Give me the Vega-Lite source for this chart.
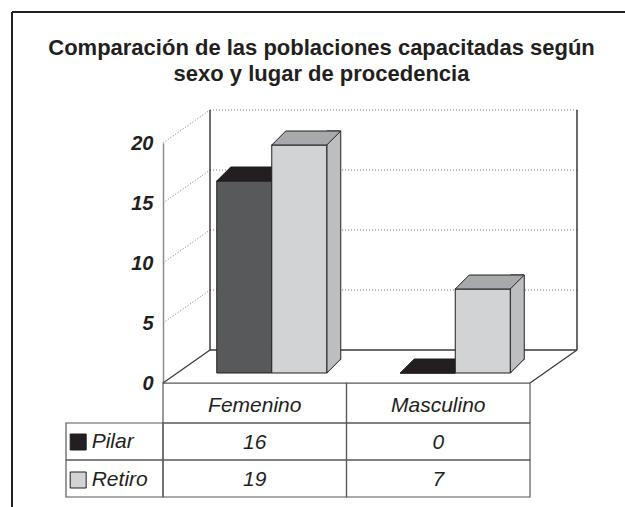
{
  "$schema": "https://vega.github.io/schema/vega-lite/v6.json",
  "width": 613,
  "height": 495,
  "autosize": {"type": "none"},
  "padding": {"left": 12, "top": 12, "right": 0, "bottom": 0},
  "background": "white",
  "config": {"view": {"stroke": null}, "font": "Liberation Sans"},
  "title": {
    "text": ["Comparación de las poblaciones capacitadas según", "sexo y lugar de procedencia"],
    "anchor": "middle",
    "frame": "group",
    "font": "Liberation Sans",
    "fontSize": 22,
    "fontWeight": "bold",
    "color": "#231f20",
    "lineHeight": 26,
    "baseline": "alphabetic",
    "offset": -92,
    "dx": 3
  },
  "datasets": {
    "bars": [
      {"sexo": "Femenino", "lugar": "Pilar", "n": 16},
      {"sexo": "Femenino", "lugar": "Retiro", "n": 19},
      {"sexo": "Masculino", "lugar": "Pilar", "n": 0},
      {"sexo": "Masculino", "lugar": "Retiro", "n": 7}
    ],
    "levels": [{"v": 5}, {"v": 10}, {"v": 15}, {"v": 20}],
    "one": [{"k": 1}]
  },
  "resolve": {"scale": {"x": "independent", "y": "independent"}},
  "layer": [
    {
      "layer": [
        {
          "data": {"name": "one"},
          "mark": {"type": "rule", "stroke": "#231f20", "strokeWidth": 2},
          "encoding": {"x": {"value": 0}, "x2": {"value": 640}, "y": {"value": 0}}
        },
        {
          "data": {"name": "one"},
          "mark": {"type": "rule", "stroke": "#231f20", "strokeWidth": 2},
          "encoding": {"x": {"value": 0}, "y": {"value": 0}, "y2": {"value": {"expr": "height"}}}
        },
        {
          "data": {"name": "levels"},
          "mark": {"type": "rule", "stroke": "#7a7a7a", "strokeWidth": 1, "strokeDash": [1, 2], "xOffset": 47, "x2Offset": 47, "yOffset": -33},
          "encoding": {
            "x": {"datum": "Femenino", "bandPosition": 0, "axis": null},
            "x2": {"datum": "Masculino", "bandPosition": 1},
            "y": {"field": "v", "type": "quantitative"}
          }
        },
        {
          "data": {"name": "levels"},
          "mark": {"type": "rule", "stroke": "#7a7a7a", "strokeWidth": 1, "strokeDash": [1, 2], "x2Offset": 47, "y2Offset": -33},
          "encoding": {
            "x": {"datum": "Femenino", "bandPosition": 0, "axis": null},
            "x2": {"datum": "Femenino", "bandPosition": 0},
            "y": {"field": "v", "type": "quantitative"},
            "y2": {"field": "v"}
          }
        },
        {
          "data": {"name": "one"},
          "mark": {"type": "rule", "stroke": "#231f20", "strokeWidth": 1.3, "xOffset": 47, "yOffset": -33, "y2Offset": -33},
          "encoding": {
            "x": {"datum": "Femenino", "bandPosition": 0, "axis": null},
            "y": {"datum": 0},
            "y2": {"datum": 20}
          }
        },
        {
          "data": {"name": "one"},
          "mark": {"type": "rule", "stroke": "#3a3a3a", "strokeWidth": 1.5, "xOffset": 47, "yOffset": -33, "y2Offset": -33},
          "encoding": {
            "x": {"datum": "Masculino", "bandPosition": 1, "axis": null},
            "y": {"datum": 0},
            "y2": {"datum": 20}
          }
        },
        {
          "data": {"name": "one"},
          "mark": {"type": "rule", "stroke": "#3a3a3a", "strokeWidth": 1.3, "xOffset": 47, "x2Offset": 47, "yOffset": -33},
          "encoding": {
            "x": {"datum": "Femenino", "bandPosition": 0, "axis": null},
            "x2": {"datum": "Masculino", "bandPosition": 1},
            "y": {"datum": 0}
          }
        },
        {
          "data": {"name": "one"},
          "mark": {"type": "rule", "stroke": "#3a3a3a", "strokeWidth": 1.3, "x2Offset": 47, "y2Offset": -33},
          "encoding": {
            "x": {"datum": "Femenino", "bandPosition": 0, "axis": null},
            "x2": {"datum": "Femenino", "bandPosition": 0},
            "y": {"datum": 0},
            "y2": {"datum": 0}
          }
        },
        {
          "data": {"name": "one"},
          "mark": {"type": "rule", "stroke": "#3a3a3a", "strokeWidth": 1.3, "x2Offset": 47, "y2Offset": -33},
          "encoding": {
            "x": {"datum": "Masculino", "bandPosition": 1, "axis": null},
            "x2": {"datum": "Masculino", "bandPosition": 1},
            "y": {"datum": 0},
            "y2": {"datum": 0}
          }
        },
        {
          "data": {"name": "bars"},
          "transform": [{"filter": "datum.lugar === 'Pilar'"}],
          "mark": {"type": "bar", "width": 55, "fill": "#58595b", "stroke": "#231f20", "strokeWidth": 1, "xOffset": -10.5, "yOffset": -10, "y2Offset": -10},
          "encoding": {
            "x": {"field": "sexo", "type": "nominal", "scale": {"domain": ["Femenino", "Masculino"], "range": [151, 518], "paddingInner": 0, "paddingOuter": 0}, "axis": null},
            "y": {
              "field": "n", "type": "quantitative",
              "scale": {"domain": [0, 20], "range": [371, 131], "nice": false, "zero": false},
              "axis": {
                "orient": "left", "offset": -151, "values": [0, 5, 10, 15, 20], "ticks": false, "tickSize": 0, "grid": false, "title": null,
                "domainColor": "#8c8c8c", "domainWidth": 1.5,
                "labelFont": "Liberation Sans", "labelFontSize": 20, "labelFontWeight": "bold", "labelFontStyle": "italic",
                "labelColor": "#231f20", "labelPadding": 10, "labelFlush": false, "labelOverlap": false, "labelBaseline": "middle"
              }
            },
            "y2": {"datum": 0}
          }
        },
        {
          "data": {"name": "bars"},
          "transform": [{"filter": "datum.lugar === 'Pilar'"}],
          "mark": {"type": "point", "shape": "M -27.5 0 L 27.5 0 L 41.5 -14 L -13.5 -14 Z", "size": 4, "filled": true, "fill": "#231f20", "stroke": "#231f20", "strokeWidth": 1, "opacity": 1, "xOffset": -10.5, "yOffset": -10},
          "encoding": {
            "x": {"field": "sexo", "type": "nominal", "axis": null},
            "y": {"field": "n", "type": "quantitative"}
          }
        },
        {
          "data": {"name": "bars"},
          "transform": [{"filter": "datum.lugar === 'Retiro'"}],
          "mark": {"type": "bar", "width": 14, "fill": "#bcbec0", "stroke": "#231f20", "strokeWidth": 1, "xOffset": 79, "yOffset": -24, "y2Offset": -10},
          "encoding": {
            "x": {"field": "sexo", "type": "nominal", "axis": null},
            "y": {"field": "n", "type": "quantitative"},
            "y2": {"datum": 0}
          }
        },
        {
          "data": {"name": "bars"},
          "transform": [{"filter": "datum.lugar === 'Retiro'"}],
          "mark": {"type": "point", "shape": "M 0 0.8 L 14.8 -14 L 16 -14 L 16 2 L -0.2 2 Z", "size": 4, "filled": true, "fill": "white", "strokeWidth": 0, "opacity": 1, "xOffset": 72, "yOffset": -10},
          "encoding": {
            "x": {"field": "sexo", "type": "nominal", "axis": null},
            "y": {"datum": 0}
          }
        },
        {
          "data": {"name": "bars"},
          "transform": [{"filter": "datum.lugar === 'Retiro'"}],
          "mark": {"type": "point", "shape": "M 0 0 L 14 -14", "size": 4, "filled": false, "stroke": "#231f20", "strokeWidth": 1, "opacity": 1, "xOffset": 72, "yOffset": -10},
          "encoding": {
            "x": {"field": "sexo", "type": "nominal", "axis": null},
            "y": {"datum": 0}
          }
        },
        {
          "data": {"name": "bars"},
          "transform": [{"filter": "datum.lugar === 'Retiro'"}],
          "mark": {"type": "bar", "width": 55, "stroke": "#231f20", "strokeWidth": 1, "xOffset": 44.5, "yOffset": -10, "y2Offset": -10},
          "encoding": {
            "x": {"field": "sexo", "type": "nominal", "axis": null},
            "y": {"field": "n", "type": "quantitative"},
            "y2": {"datum": 0},
            "fill": {
              "field": "lugar", "type": "nominal",
              "scale": {"domain": ["Pilar", "Retiro"], "range": ["#231f20", "#d1d3d4"]},
              "legend": {
                "orient": "none", "legendX": 55.7, "legendY": 419.5, "title": null, "direction": "vertical",
                "symbolType": "square", "symbolSize": 256, "symbolStrokeColor": "#231f20", "symbolStrokeWidth": 1,
                "labelFont": "Liberation Sans", "labelFontSize": 21, "labelFontStyle": "italic", "labelColor": "#231f20",
                "labelOffset": 3, "rowPadding": 16, "padding": 0
              }
            }
          }
        },
        {
          "data": {"name": "bars"},
          "transform": [{"filter": "datum.lugar === 'Retiro'"}],
          "mark": {"type": "point", "shape": "M -27.5 0 L 27.5 0 L 41.5 -14 L -13.5 -14 Z", "size": 4, "filled": true, "fill": "#a7a9ac", "stroke": "#231f20", "strokeWidth": 1, "opacity": 1, "xOffset": 44.5, "yOffset": -10},
          "encoding": {
            "x": {"field": "sexo", "type": "nominal", "axis": null},
            "y": {"field": "n", "type": "quantitative"}
          }
        }
      ]
    },
    {
      "data": {"name": "bars"},
      "layer": [
        {
          "mark": {"type": "rect", "fill": "transparent", "stroke": "#58595b", "strokeWidth": 1.2},
          "encoding": {
            "x": {
              "field": "sexo", "type": "nominal",
              "scale": {"domain": ["Femenino", "Masculino"], "range": [151, 518], "paddingInner": 0, "paddingOuter": 0},
              "axis": null
            },
            "y": {
              "field": "lugar", "type": "nominal",
              "scale": {"domain": ["Pilar", "Retiro"], "range": [411, 485], "paddingInner": 0, "paddingOuter": 0},
              "axis": null
            }
          }
        },
        {
          "transform": [{"filter": "datum.sexo === 'Femenino'"}],
          "mark": {"type": "rect", "fill": "transparent", "stroke": "#58595b", "strokeWidth": 1.2},
          "encoding": {
            "x": {"datum": "Femenino", "bandPosition": -0.5286, "axis": null},
            "x2": {"datum": "Femenino", "bandPosition": 0},
            "y": {"field": "lugar", "type": "nominal", "axis": null}
          }
        },
        {
          "transform": [{"filter": "datum.lugar === 'Pilar'"}],
          "mark": {"type": "rect", "fill": "transparent", "stroke": "#58595b", "strokeWidth": 1.2},
          "encoding": {
            "x": {"field": "sexo", "type": "nominal", "axis": null},
            "y": {"datum": "Pilar", "bandPosition": -1.08, "axis": null},
            "y2": {"datum": "Pilar", "bandPosition": 0}
          }
        },
        {
          "transform": [{"filter": "datum.lugar === 'Pilar'"}],
          "mark": {"type": "text", "font": "Liberation Sans", "fontSize": 21, "fontStyle": "italic", "color": "#231f20", "align": "center", "baseline": "middle"},
          "encoding": {
            "x": {"field": "sexo", "type": "nominal", "axis": null},
            "y": {"datum": "Pilar", "bandPosition": -0.47, "axis": null},
            "text": {"field": "sexo", "type": "nominal"}
          }
        },
        {
          "mark": {"type": "text", "font": "Liberation Sans", "fontSize": 21, "fontStyle": "italic", "color": "#231f20", "align": "center", "baseline": "middle", "dy": 1},
          "encoding": {
            "x": {"field": "sexo", "type": "nominal", "axis": null},
            "y": {"field": "lugar", "type": "nominal", "axis": null},
            "text": {"field": "n", "type": "quantitative"}
          }
        }
      ]
    }
  ]
}
